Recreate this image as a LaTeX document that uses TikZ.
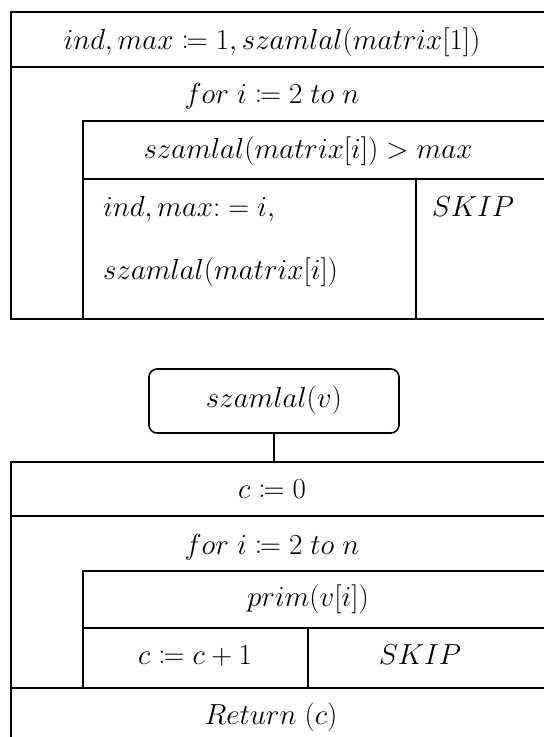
\documentclass[tikz,border=0pt]{standalone}
\usepackage{fix-cm}
\usepackage{amsmath}
\usepackage{mathtools}
\usetikzlibrary{positioning}
\tikzset{
  frame/.style={line width=1.6pt},
  cell/.style={inner sep=0pt,text height=20pt,text depth=7pt,
              font=\fontsize{29}{34}\selectfont},
  cellleft/.style={cell,anchor=west},
  callbox/.style={draw,frame,rounded corners=8pt,minimum width=250pt,
              minimum height=64pt,cell},
}

\begin{document}
\begin{tikzpicture}[x=1pt,y=-1pt]
  \useasboundingbox (0,0) rectangle (544,737);
  % upper structogram
  \draw[frame] (544,12) -- (11,12) -- (11,319) -- (544,319);
  \draw[frame] (11,67) -- (544,67);
  \draw[frame] (544,121) -- (83,121) -- (83,319);
  \draw[frame] (83,179) -- (544,179);
  \draw[frame] (416,179) -- (416,319);
  \node[cell]     (init)  at (272,43)  {$ind,max\coloneqq 1,szamlal(matrix[1])$};
  \node[cell]     (loopa) at (272,97)  {$for\;i\coloneqq 2\;to\;n$};
  \node[cell]     (conda) at (308,152) {$szamlal(matrix[i])>max$};
  \node[cellleft] (thena) at (103,210) {$ind,max{:}=i,$};
  \node[cellleft] (thenb) at (103,273) {$szamlal(matrix[i])$};
  \node[cell]     (skipa) at (473,210) {$SKIP$};
  % lower structogram
  \node[callbox]  (call)  at (274,401) {$szamlal(v)$};
  \coordinate (entry) at (274,462);
  \draw[frame] (call) -- (entry);
  \draw[frame] (544,462) -- (11,462) -- (11,737);
  \draw[frame] (11,516) -- (544,516);
  \draw[frame] (544,571) -- (83,571) -- (83,688);
  \draw[frame] (83,628) -- (544,628);
  \draw[frame] (308,628) -- (308,688);
  \draw[frame] (11,688) -- (544,688);
  \node[cell] (zero)  at (272,492) {$c\coloneqq 0$};
  \node[cell] (loopb) at (272,548) {$for\;i\coloneqq 2\;to\;n$};
  \node[cell] (condb) at (308,600) {$prim(v[i])$};
  \node[cell] (incr)  at (195,658) {$c\coloneqq c+1$};
  \node[cell] (skipb) at (420,658) {$SKIP$};
  \node[cell] (ret)   at (271,718) {$Return\;(c)$};
\end{tikzpicture}
\end{document}
